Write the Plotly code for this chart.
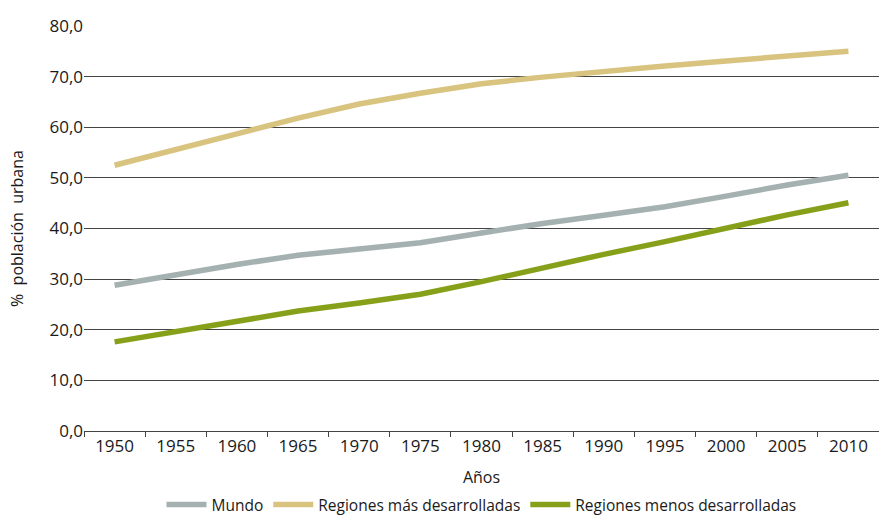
import plotly.graph_objects as go

# Años de la serie
years = ["1950", "1955", "1960", "1965", "1970", "1975", "1980",
         "1985", "1990", "1995", "2000", "2005", "2010"]

# % de población urbana
mundo = [28.8, 30.9, 32.9, 34.7, 36.0, 37.2, 39.1, 41.0, 42.6, 44.3, 46.4, 48.6, 50.5]
mas_desarrolladas = [52.5, 55.5, 58.7, 61.8, 64.6, 66.7, 68.6, 69.9, 71.1, 72.1, 73.1, 74.0, 75.0]
menos_desarrolladas = [17.6, 19.6, 21.7, 23.7, 25.3, 27.0, 29.5, 32.3, 34.9, 37.4, 40.1, 42.7, 45.1]

y_ticks = [0, 10, 20, 30, 40, 50, 60, 70, 80]

series = [
    ("Mundo", mundo, "#a5b1b0"),
    ("Regiones más desarrolladas", mas_desarrolladas, "#d8c37f"),
    ("Regiones menos desarrolladas", menos_desarrolladas, "#87a01a"),
]

fig = go.Figure()
for name, values, color in series:
    fig.add_trace(go.Scatter(
        x=years, y=values, name=name, mode="lines",
        line=dict(color=color, width=5.5),
    ))

font_family = "Open Sans, DejaVu Sans, sans-serif"

fig.update_layout(
    width=879, height=520,
    margin=dict(l=84, r=0, t=26, b=89, autoexpand=False),
    paper_bgcolor="white", plot_bgcolor="white",
    separators=",.",
    font=dict(family=font_family, size=16, color="#1a1a1a"),
    showlegend=True,
    legend=dict(
        orientation="h", x=0.5, xanchor="center",
        yref="container", y=0.029, yanchor="middle",
        font=dict(size=15.5), itemwidth=40, tracegroupgap=0,
        borderwidth=0,
    ),
    xaxis=dict(
        type="category",
        tickson="boundaries",
        ticks="outside", ticklen=5, tickcolor="#444444", tickwidth=1,
        showline=True, linecolor="#444444", linewidth=1,
        showgrid=False,
        tickfont=dict(size=17),
        title=dict(text="Años", font=dict(size=16), standoff=22),
        range=[-0.5, 12.5],
    ),
    yaxis=dict(
        range=[0, 80],
        tickvals=y_ticks,
        tickformat=".1f",
        showgrid=True, gridcolor="#444444", gridwidth=1,
        zeroline=False,
        ticks="", ticklen=0,
        tickfont=dict(size=17),
        title=dict(text="%  población  urbana", font=dict(size=16), standoff=21),
    ),
)

fig.write_html("out.html")
